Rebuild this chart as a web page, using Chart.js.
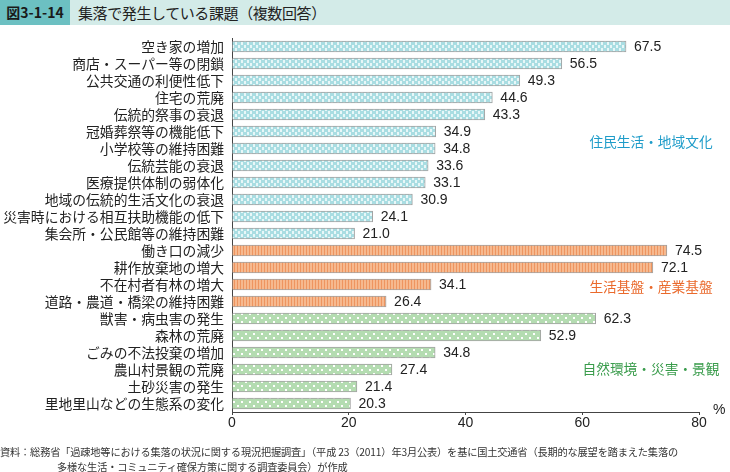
<!DOCTYPE html>
<html>
<head>
<meta charset="utf-8">
<script src="https://cdn.jsdelivr.net/npm/chart.js@4"></script>
<style>
  body { margin: 0; background: #fff; font-family: "Noto Sans CJK JP", sans-serif; }
  #wrap { position: relative; width: 730px; height: 472px; overflow: hidden; }
  #titlebar { position: absolute; left: 0; top: 0; width: 730px; height: 25px; background: #d3ebe8; }
  #fignum { position: absolute; left: 0; top: 0; width: 70px; height: 25px; background: #6cc0c2;
            font-weight: bold; font-size: 14px; line-height: 25px; text-align: center; color: #1a1a1a; }
  #title { position: absolute; left: 78px; top: 0; font-size: 15px; line-height: 25px; color: #222; letter-spacing: -0.4px; }
  #note { position: absolute; left: 0; top: 444px; font-size: 10.2px; line-height: 15px; color: #333; white-space: nowrap; letter-spacing: -0.15px; }
  #note div.ind { padding-left: 57px; }
  canvas { position: absolute; left: 0; top: 0; }
</style>
</head>
<body>
<div id="wrap">
  <div id="titlebar"></div>
  <div id="fignum">図3-1-14</div>
  <div id="title">集落で発生している課題（複数回答）</div>
  <canvas id="chart" width="730" height="472"></canvas>
  <div id="note">
    <div>資料：総務省「過疎地等における集落の状況に関する現況把握調査」（平成 23（2011）年3月公表）を基に国土交通省（長期的な展望を踏まえた集落の</div>
    <div class="ind">多様な生活・コミュニティ確保方策に関する調査委員会）が作成</div>
  </div>
</div>
<script>
// data
const lifeLabels = ['空き家の増加', '商店・スーパー等の閉鎖', '公共交通の利便性低下', '住宅の荒廃', '伝統的祭事の衰退',
  '冠婚葬祭等の機能低下', '小学校等の維持困難', '伝統芸能の衰退', '医療提供体制の弱体化', '地域の伝統的生活文化の衰退',
  '災害時における相互扶助機能の低下', '集会所・公民館等の維持困難'];
const lifeValues = [67.5, 56.5, 49.3, 44.6, 43.3, 34.9, 34.8, 33.6, 33.1, 30.9, 24.1, 21.0];

const baseLabels = ['働き口の減少', '耕作放棄地の増大', '不在村者有林の増大', '道路・農道・橋梁の維持困難'];
const baseValues = [74.5, 72.1, 34.1, 26.4];

const natureLabels = ['獣害・病虫害の発生', '森林の荒廃', 'ごみの不法投棄の増加', '農山村景観の荒廃', '土砂災害の発生', '里地里山などの生態系の変化'];
const natureValues = [62.3, 52.9, 34.8, 27.4, 21.4, 20.3];

const groupNames = ['住民生活・地域文化', '生活基盤・産業基盤', '自然環境・災害・景観'];
const xTicks = [0, 20, 40, 60, 80];

// patterns
function makePattern(kind) {
  const c = document.createElement('canvas');
  const g = c.getContext('2d');
  if (kind === 'blue') {
    c.width = 6; c.height = 6;
    g.fillStyle = '#a9dde2'; g.fillRect(0, 0, 6, 6);
    g.fillStyle = '#e8f7f8';
    g.fillRect(1, 0, 2, 3); g.fillRect(4, 3, 2, 3);
  } else if (kind === 'orange') {
    c.width = 3; c.height = 3;
    g.fillStyle = '#f6b98f'; g.fillRect(0, 0, 3, 3);
    g.fillStyle = '#ee9560'; g.fillRect(0, 0, 1, 3);
  } else {
    c.width = 8; c.height = 8;
    g.fillStyle = '#b4dcb1'; g.fillRect(0, 0, 8, 8);
    g.fillStyle = '#ffffff';
    g.fillRect(1, 1, 2, 2); g.fillRect(5, 5, 2, 2);
  }
  return g.createPattern(c, 'repeat');
}
const patBlue = makePattern('blue');
const patOrange = makePattern('orange');
const patGreen = makePattern('green');

const labels = [...lifeLabels, ...baseLabels, ...natureLabels];
const values = [...lifeValues, ...baseValues, ...natureValues];
const fills = [
  ...lifeValues.map(() => patBlue),
  ...baseValues.map(() => patOrange),
  ...natureValues.map(() => patGreen)
];

const numFont = '14px "Liberation Sans", Arial, sans-serif';

const valueLabels = {
  id: 'valueLabels',
  afterDatasetsDraw(chart) {
    const ctx = chart.ctx;
    const meta = chart.getDatasetMeta(0);
    ctx.save();
    ctx.font = numFont;
    ctx.fillStyle = '#222';
    ctx.textAlign = 'left';
    ctx.textBaseline = 'middle';
    meta.data.forEach((bar, i) => {
      ctx.fillText(values[i].toFixed(1), bar.x + 8, bar.y + 1);
    });
    // group captions
    ctx.font = '13.7px "Noto Sans CJK JP", sans-serif';
    ctx.textAlign = 'center';
    const gy = [142, 287, 369];
    const gc = ['#1e9cc9', '#ea6a2c', '#3a9c4c'];
    groupNames.forEach((t, i) => {
      ctx.fillStyle = gc[i];
      ctx.fillText(t, 651, gy[i]);
    });
    // unit
    ctx.font = numFont;
    ctx.fillStyle = '#222';
    ctx.textAlign = 'left';
    ctx.fillText('%', 713, 410);
    ctx.restore();
  }
};

new Chart(document.getElementById('chart').getContext('2d'), {
  type: 'bar',
  data: {
    labels: labels,
    datasets: [{
      data: values,
      backgroundColor: fills,
      borderColor: '#a3a3a3',
      borderWidth: 1,
      borderSkipped: 'left',
      barThickness: 11
    }]
  },
  options: {
    indexAxis: 'y',
    responsive: false,
    animation: false,
    layout: { padding: { top: 38, right: 31, bottom: 0, left: 0 } },
    plugins: { legend: { display: false }, tooltip: { enabled: false } },
    scales: {
      x: {
        min: 0,
        max: 80,
        afterFit(s) { s.height = 60; },
        afterBuildTicks(s) { s.ticks = xTicks.map(v => ({ value: v })); },
        grid: { display: true, drawOnChartArea: false, drawTicks: true, tickLength: 3, color: '#444' },
        border: { color: '#444', width: 1 },
        ticks: { color: '#222', font: { family: '"Liberation Sans", Arial, sans-serif', size: 14 }, padding: 0 }
      },
      y: {
        afterFit(s) { s.width = 232; },
        grid: { display: false },
        border: { color: '#444', width: 1 },
        ticks: { color: '#222', font: { family: '"Noto Sans CJK JP", sans-serif', size: 13.8 }, padding: 0, autoSkip: false }
      }
    }
  },
  plugins: [valueLabels]
});
</script>
</body>
</html>
